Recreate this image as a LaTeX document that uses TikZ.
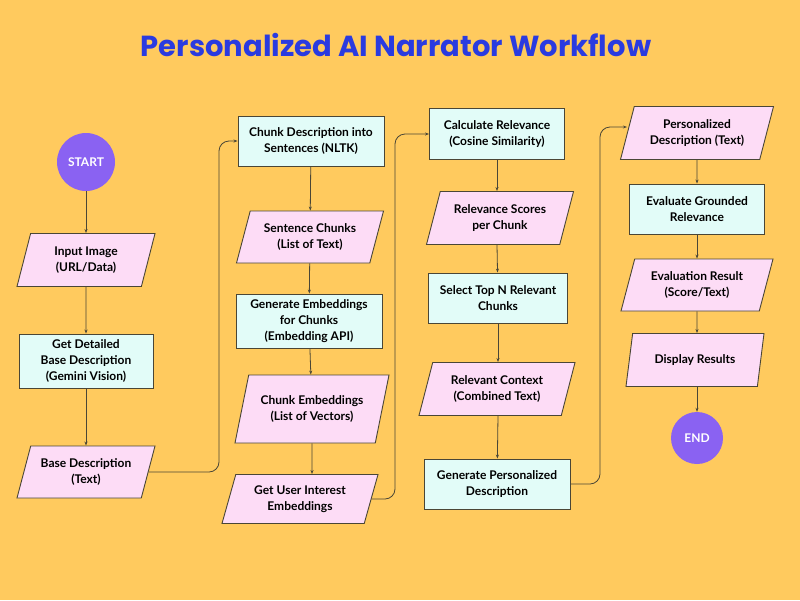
\documentclass[tikz,border=0pt]{standalone}
\usepackage{fontspec}
\setmainfont{Lato}
\newfontfamily\titlefont{Poppins}
\usetikzlibrary{shapes.geometric,arrows.meta}
\definecolor{bg}{HTML}{FFCA5E}
\definecolor{boxc}{HTML}{E2FCF8}
\definecolor{parac}{HTML}{FDDCF6}
\definecolor{circc}{HTML}{8A62F2}
\definecolor{linec}{HTML}{4A4636}
\definecolor{titlec}{HTML}{2A3BE0}
\tikzset{
  base/.style={draw=linec,line width=0.9pt,align=center,font=\fontsize{12}{16}\selectfont\bfseries,text=black,inner sep=2pt},
  procbox/.style={base,fill=boxc,rectangle},
  iobox/.style={base,fill=parac,trapezium,trapezium left angle=66,trapezium right angle=114,trapezium stretches body},
  term/.style={circle,fill=circc,text=white,font=\fontsize{12}{14}\selectfont\bfseries,inner sep=0pt},
  conn/.style={draw=linec,line width=0.8pt,-{Stealth[length=4pt,width=3pt]}},
}
\begin{document}
\begin{tikzpicture}[x=1pt,y=-1pt]
\fill[bg] (0,0) rectangle (800,600);
\useasboundingbox (0,0) rectangle (800,600);
\node[text=titlec,font=\titlefont\fontsize{29}{34}\selectfont\bfseries] (title) at (396,45) {Personalized AI Narrator Workflow};
% column 1
\node[term,minimum size=58pt] (start) at (86,162) {START};
\node[iobox,minimum width=138pt,minimum height=53pt] (in) at (86,260) {Input Image\\(URL/Data)};
\node[procbox,minimum width=134pt,minimum height=54pt] (gd) at (86,361) {Get Detailed\\Base Description\\(Gemini Vision)};
\node[iobox,minimum width=138pt,minimum height=52pt] (bd) at (86,472) {Base Description\\(Text)};
% column 2
\node[procbox,minimum width=146pt,minimum height=50pt] (cd) at (311,141) {Chunk Description into\\Sentences (NLTK)};
\node[iobox,minimum width=147pt,minimum height=52pt] (sc) at (310,237) {Sentence Chunks\\(List of Text)};
\node[procbox,minimum width=146pt,minimum height=54pt] (ge) at (309,321) {Generate Embeddings\\for Chunks\\(Embedding API)};
\node[iobox,minimum width=154pt,minimum height=68pt] (ce) at (312,409) {Chunk Embeddings\\(List of Vectors)};
\node[iobox,minimum width=156pt,minimum height=49pt] (gu) at (300,499) {Get User Interest\\Embeddings};
% column 3
\node[procbox,minimum width=135pt,minimum height=51pt] (cr) at (497,134) {Calculate Relevance\\(Cosine Similarity)};
\node[iobox,minimum width=147pt,minimum height=53pt] (rs) at (500,218) {Relevance Scores\\per Chunk};
\node[procbox,minimum width=139pt,minimum height=50pt] (st) at (498,298) {Select Top N Relevant\\Chunks};
\node[iobox,minimum width=156pt,minimum height=53pt] (rc) at (497,389) {Relevant Context\\(Combined Text)};
\node[procbox,minimum width=146pt,minimum height=50pt] (gp) at (497,484) {Generate Personalized\\Description};
% column 4
\node[iobox,minimum width=153pt,minimum height=53pt] (pd) at (697,133) {Personalized\\Description (Text)};
\node[procbox,minimum width=135pt,minimum height=50pt] (eg) at (697,209) {Evaluate Grounded\\Relevance};
\node[iobox,minimum width=152pt,minimum height=52pt] (er) at (697,285) {Evaluation Result\\(Score/Text)};
\node[iobox,minimum width=138pt,minimum height=53pt] (dr) at (695,360) {Display Results};
\node[term,minimum size=52pt] (end) at (697,438) {END};
% arrows
\draw[conn] (start) -- (in);
\draw[conn] (in) -- (gd);
\draw[conn] (gd) -- (bd);
\draw[conn] (cd) -- (sc);
\draw[conn] (sc) -- (ge);
\draw[conn] (ge) -- (ce);
\draw[conn] (ce) -- (gu.north -| ce);
\draw[conn] (cr) -- (rs.north -| cr);
\draw[conn] (rs.south -| cr) -- (st);
\draw[conn] (st) -- (rc.north -| st);
\draw[conn] (rc.south -| st) -- (gp);
\draw[conn] (pd) -- (eg);
\draw[conn] (eg) -- (er);
\draw[conn] (er) -- (dr.north -| er);
\draw[conn] (dr.south -| end) -- (end);
\draw[conn,rounded corners=10pt] (bd.east) -- (219,472) -- (219,141) -- (cd.west);
\draw[conn,rounded corners=10pt] (gu.east) -- (395,499) -- (395,134) -- (cr.west);
\draw[conn,rounded corners=10pt] (gp.east) -- (600,484) -- (600,127) -- (pd.west |- 0,127);
\end{tikzpicture}
\end{document}
